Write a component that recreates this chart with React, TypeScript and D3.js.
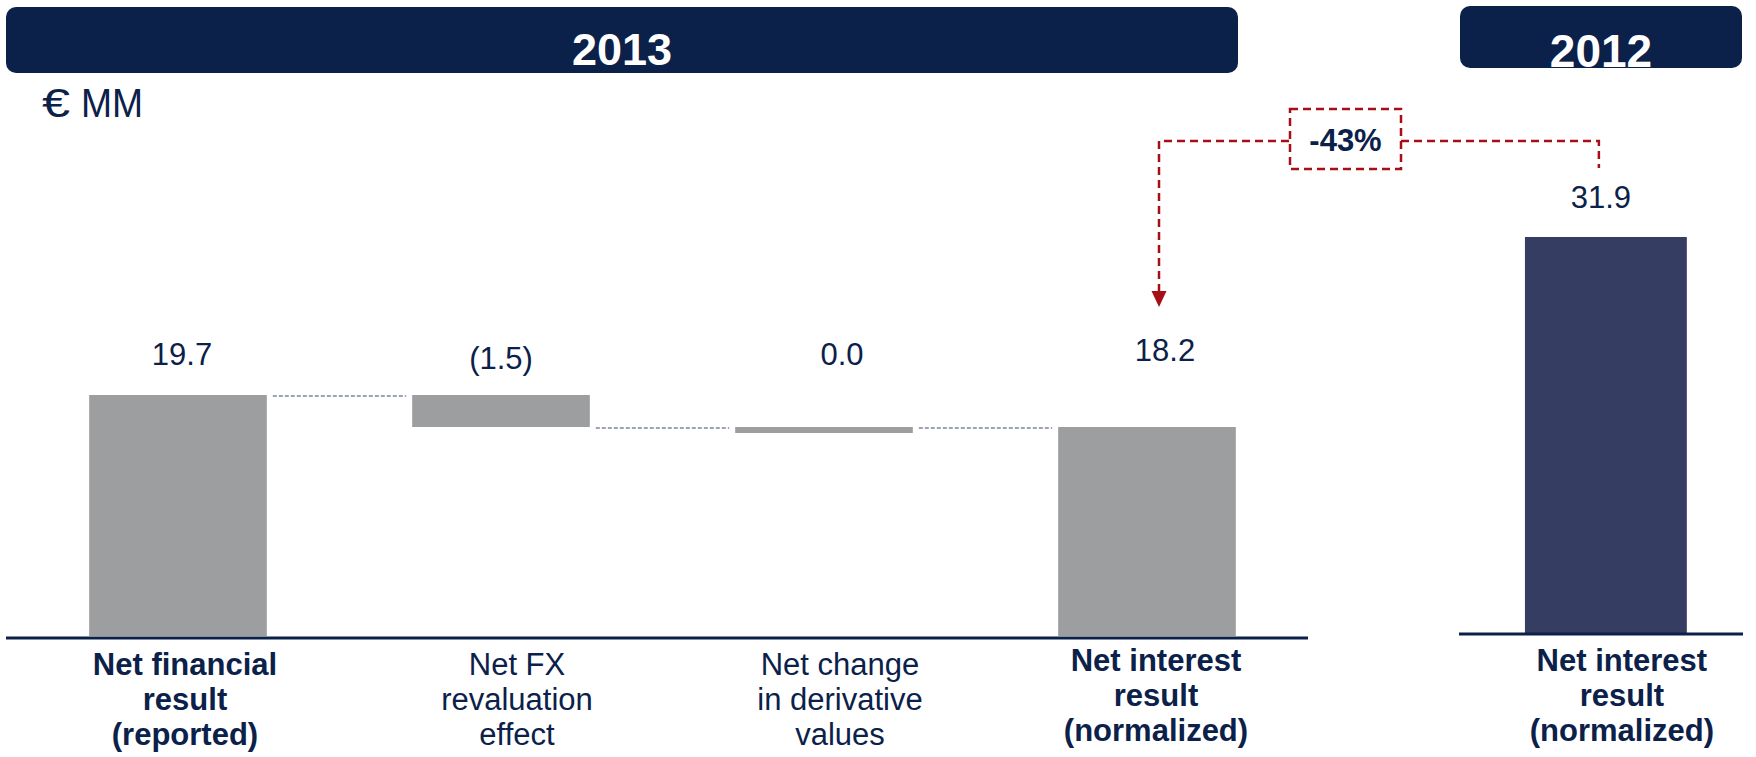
import React from "react";
import * as d3 from "d3";

const categories2013 = [
  ["Net financial", "result", "(reported)"],
  ["Net FX", "revaluation", "effect"],
  ["Net change", "in derivative", "values"],
  ["Net interest", "result", "(normalized)"],
];
const boldCategory2013 = [true, false, false, true];
const values2013 = [19.7, -1.5, 0.0, 18.2];
const barKinds2013 = ["total", "delta", "delta", "total"];
// the 2013 value axis is broken (truncated) below this value
const axisBreak2013 = 8.4;

const categories2012 = [["Net interest", "result", "(normalized)"]];
const values2012 = [31.9];

const panelTitles = ["2013", "2012"];
const unitSymbol = "€";
const unitLabel = "MM";
const changeLabel = "-43%";

const NAVY = "#0B2149";
const GRAY = "#9D9EA0";
const BAR2012 = "#353D63";
const RED = "#A50F15";
const FONT = "'Liberation Sans', Arial, Helvetica, sans-serif";

const fmt = (v: number) => (v < 0 ? `(${d3.format(".1f")(-v)})` : d3.format(".1f")(v));

export default function App() {
  const W = 1756;
  const H = 757;

  // 2013 panel
  const base2013 = 636;
  const x2013 = d3
    .scaleBand<number>()
    .domain(d3.range(values2013.length))
    .range([16.5, 1308.5])
    .paddingInner(0.45)
    .paddingOuter(0.225);
  const y2013 = d3
    .scaleLinear()
    .domain([axisBreak2013, d3.max(values2013)!])
    .range([base2013, 395]);

  // waterfall levels
  const bars2013: { x: number; w: number; y0: number; y1: number; from: number; to: number }[] = [];
  let level = 0;
  values2013.forEach((v, i) => {
    let from: number, to: number;
    if (barKinds2013[i] === "total") {
      from = axisBreak2013;
      to = v;
      level = v;
    } else {
      from = level;
      to = level + v;
      level = to;
    }
    const yTop = y2013(Math.max(from, to));
    let yBot = y2013(Math.min(from, to));
    if (yBot - yTop < 6) {
      yBot = yTop + 6;
    }
    bars2013.push({ x: x2013(i)!, w: x2013.bandwidth(), y0: yTop, y1: yBot, from, to });
  });

  const labelRowY = y2013(d3.max(values2013)!) - 30;

  // 2012 panel
  const base2012 = 633;
  const x2012 = d3
    .scaleBand<number>()
    .domain(d3.range(values2012.length))
    .range([1459, 1743])
    .paddingInner(0.43)
    .paddingOuter(0.215)
    .align(0.54);
  const y2012 = d3
    .scaleLinear()
    .domain([0, d3.max(values2012)!])
    .range([base2012, 237]);
  const bar5 = {
    x: x2012(0)!,
    w: x2012.bandwidth(),
    top: y2012(values2012[0]),
  };

  const bar4 = bars2013[3];
  const leftArrowX = bar4.x + bar4.w / 2 + 12;
  const rightArrowX = bar5.x + bar5.w / 2 - 7;
  const calloutY = 141;
  const box = { x: 1290, y: 109, w: 111, h: 60 };

  const labelOffsets = [4, 0, 18, 18];
  const catOffsets = [7, 16, 16, 9];

  return (
    <svg
      width={W}
      height={H}
      style={{ position: "absolute", left: 0, top: 0, background: "#fff" }}
      fontFamily={FONT}
    >
      {/* headers */}
      <rect x={6} y={7} width={1232} height={66} rx={10} fill={NAVY} />
      <text x={622} y={65} textAnchor="middle" fill="#fff" fontSize={45} fontWeight="bold">
        {panelTitles[0]}
      </text>
      <rect x={1460} y={6} width={282} height={62} rx={10} fill={NAVY} />
      <text x={1601} y={67} textAnchor="middle" fill="#fff" fontSize={46} fontWeight="bold">
        {panelTitles[1]}
      </text>

      {/* unit */}
      <text x={42} y={117} fill={NAVY} fontSize={40} textLength={28} lengthAdjust="spacingAndGlyphs">
        {unitSymbol}
      </text>
      <text x={81} y={117} fill={NAVY} fontSize={40} textLength={62} lengthAdjust="spacingAndGlyphs">
        {unitLabel}
      </text>

      {/* 2013 bars */}
      {bars2013.map((b, i) => (
        <rect key={i} x={b.x} y={b.y0} width={b.w} height={b.y1 - b.y0} fill={GRAY} />
      ))}

      {/* connectors */}
      {bars2013.slice(0, -1).map((b, i) => {
        const next = bars2013[i + 1];
        const yy = y2013(b.to);
        return (
          <line
            key={i}
            x1={b.x + b.w + 6}
            x2={next.x - 6}
            y1={yy + 1}
            y2={yy + 1}
            stroke="#3A4A78"
            strokeWidth={1.2}
            strokeDasharray="4 2"
          />
        );
      })}

      {/* value labels 2013 */}
      {bars2013.map((b, i) => (
        <text
          key={i}
          x={b.x + b.w / 2 + labelOffsets[i]}
          y={labelRowY + (i === 1 ? 4 : i === 3 ? -4 : 0)}
          textAnchor="middle"
          fill={NAVY}
          fontSize={31}
        >
          {fmt(values2013[i])}
        </text>
      ))}

      {/* 2013 axis */}
      <line x1={6} x2={1308} y1={638} y2={638} stroke={NAVY} strokeWidth={3} />

      {/* 2013 category labels */}
      {categories2013.map((lines, i) => {
        const b = bars2013[i];
        const cx = b.x + b.w / 2 + catOffsets[i];
        const y0 = i === 3 ? 671 : 675;
        return (
          <text
            key={i}
            textAnchor="middle"
            fill={NAVY}
            fontSize={31}
            fontWeight={boldCategory2013[i] ? "bold" : "normal"}
          >
            {lines.map((l, j) => (
              <tspan key={j} x={cx} y={y0 + j * 35}>
                {l}
              </tspan>
            ))}
          </text>
        );
      })}

      {/* 2012 bar */}
      <rect x={bar5.x} y={bar5.top} width={bar5.w} height={base2012 - bar5.top} fill={BAR2012} />
      <text x={bar5.x + bar5.w / 2 - 5} y={bar5.top - 29} textAnchor="middle" fill={NAVY} fontSize={31}>
        {fmt(values2012[0])}
      </text>
      <line x1={1459} x2={1743} y1={634} y2={634} stroke={NAVY} strokeWidth={3} />
      {categories2012.map((lines, i) => {
        const cx = bar5.x + bar5.w / 2 + 16;
        return (
          <text key={i} textAnchor="middle" fill={NAVY} fontSize={31} fontWeight="bold">
            {lines.map((l, j) => (
              <tspan key={j} x={cx} y={671 + j * 35}>
                {l}
              </tspan>
            ))}
          </text>
        );
      })}

      {/* change callout */}
      <g stroke={RED} strokeWidth={2.5} fill="none" strokeDasharray="8 5">
        <polyline points={`${leftArrowX},${292} ${leftArrowX},${calloutY} ${box.x},${calloutY}`} />
        <polyline points={`${box.x + box.w},${calloutY} ${rightArrowX},${calloutY} ${rightArrowX},${168}`} />
        <rect x={box.x} y={box.y} width={box.w} height={box.h} />
      </g>
      <path
        d={`M${leftArrowX - 7.5},${291} L${leftArrowX + 7.5},${291} L${leftArrowX},${307} Z`}
        fill={RED}
      />
      <text
        x={box.x + box.w / 2}
        y={151}
        textAnchor="middle"
        fill={NAVY}
        fontSize={31}
        fontWeight="bold"
      >
        {changeLabel}
      </text>
    </svg>
  );
}
